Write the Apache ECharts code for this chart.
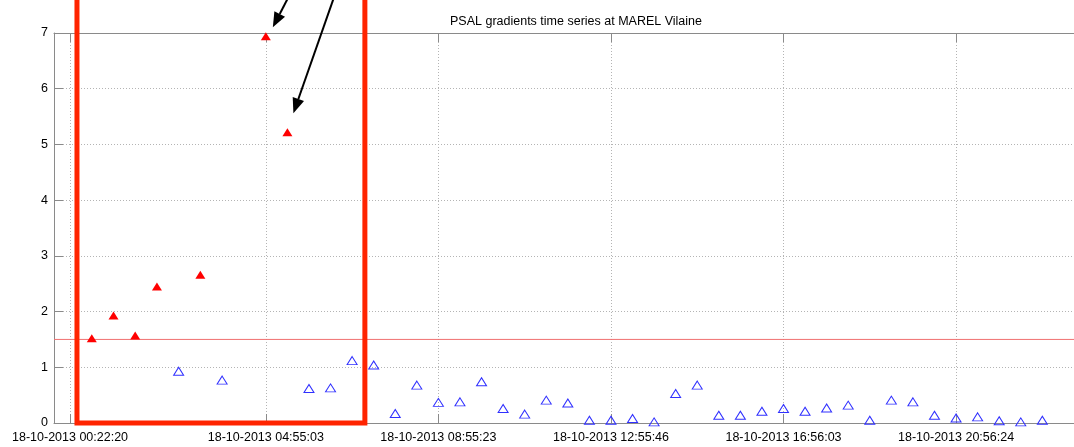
<!DOCTYPE html>
<html>
<head>
<meta charset="utf-8">
<script src="https://cdn.jsdelivr.net/npm/echarts@6/dist/echarts.min.js"></script>
<style>
  html, body { margin: 0; padding: 0; background: #fff; }
  #chart { width: 1074px; height: 447px; }
</style>
</head>
<body>
<div id="chart"></div>
<script>
// sample times (18-10-2013) and PSAL gradient values
const sampleDay = '18-10-2013'
const sampleTimes = [
  '00:52:35', '01:22:50', '01:53:05', '02:23:20', '02:53:35', '03:23:50', '03:54:10', '04:24:30',
  '04:55:03', '05:25:05', '05:55:08', '06:25:10', '06:55:13', '07:25:15', '07:55:18', '08:25:20',
  '08:55:23', '09:25:26', '09:55:29', '10:25:32', '10:55:34', '11:25:37', '11:55:40', '12:25:43',
  '12:55:46', '13:25:48', '13:55:50', '14:25:52', '14:55:54', '15:25:57', '15:55:59', '16:26:01',
  '16:56:03', '17:26:06', '17:56:08', '18:26:11', '18:56:13', '19:26:16', '19:56:18', '20:26:21',
  '20:56:24', '21:26:26', '21:56:29', '22:26:31', '22:56:34'
]
const gradientValues = [
  1.52, 1.93, 1.57, 2.45, 0.93, 2.66, 0.77, null,
  6.94, 5.22, 0.62, 0.63, 1.12, 1.04, 0.17, 0.68,
  0.37, 0.38, 0.74, 0.26, 0.16, 0.41, 0.36, 0.05,
  0.05, 0.08, 0.02, 0.53, 0.68, 0.14, 0.14, 0.21,
  0.26, 0.21, 0.27, 0.32, 0.05, 0.41, 0.38, 0.14,
  0.09, 0.11, 0.04, 0.02, 0.05
]
const tickLabels = [
  '18-10-2013 00:22:20', '18-10-2013 04:55:03', '18-10-2013 08:55:23',
  '18-10-2013 12:55:46', '18-10-2013 16:56:03', '18-10-2013 20:56:24'
]
// the figure is cropped on the right, so the visible axis stops before midnight
const axisStart = '18-10-2013 00:00:00'
const axisEnd = '18-10-2013 23:40:40'
const threshold = 1.5
// highlighted window (red box) and the two flagged points the arrows point at
const boxStart = '18-10-2013 00:32:00'
const boxEnd = '18-10-2013 07:13:00'
const arrowTargets = [8, 9]

const FONT = 'Liberation Sans'

function toMs(s) {
  const [d, t] = s.split(' ')
  const [dd, mo, yy] = d.split('-').map(Number)
  const [hh, mi, ss] = t.split(':').map(Number)
  return Date.UTC(yy, mo - 1, dd, hh, mi, ss)
}
function pad(n) { return (n < 10 ? '0' : '') + n }
function fmt(ms) {
  const d = new Date(ms)
  return pad(d.getUTCDate()) + '-' + pad(d.getUTCMonth() + 1) + '-' + d.getUTCFullYear() + ' ' +
    pad(d.getUTCHours()) + ':' + pad(d.getUTCMinutes()) + ':' + pad(d.getUTCSeconds())
}

const points = sampleTimes.map((t, i) => [toMs(sampleDay + ' ' + t), gradientValues[i]])
const above = points.filter(p => p[1] != null && p[1] > threshold)
const below = points.filter(p => p[1] != null && p[1] <= threshold)
const tickValues = tickLabels.map(toMs)

const chart = echarts.init(document.getElementById('chart'))

const axisGray = '#8a8a8a'
const gridStyle = { color: '#b4b4b4', type: [1, 2], width: 1 }

chart.setOption({
  animation: false,
  title: {
    text: 'PSAL gradients time series at MAREL Vilaine',
    left: 571,
    textAlign: 'center',
    top: 10,
    textStyle: { fontFamily: FONT, fontSize: 12.5, fontWeight: 'normal', color: '#000' }
  },
  grid: { left: 54, right: 0, top: 33, bottom: 24 },
  xAxis: [{
    type: 'value',
    min: toMs(axisStart),
    max: toMs(axisEnd),
    axisLine: { lineStyle: { color: axisGray } },
    axisTick: { inside: true, length: 9, customValues: tickValues, lineStyle: { color: axisGray } },
    axisLabel: {
      customValues: tickValues,
      formatter: v => fmt(v),
      fontFamily: FONT, fontSize: 12.5, color: '#000', margin: 8
    },
    splitLine: { show: true, lineStyle: gridStyle }
  }, {
    type: 'value',
    position: 'top',
    min: toMs(axisStart),
    max: toMs(axisEnd),
    axisLine: { show: true, lineStyle: { color: axisGray } },
    axisTick: { inside: true, length: 9, customValues: tickValues, lineStyle: { color: axisGray } },
    axisLabel: { show: false },
    splitLine: { show: false }
  }],
  yAxis: {
    type: 'value',
    min: 0,
    max: 7,
    interval: 1,
    axisLine: { show: true, lineStyle: { color: axisGray } },
    axisTick: { show: true, inside: true, length: 9, lineStyle: { color: axisGray } },
    axisLabel: { fontFamily: FONT, fontSize: 12.5, color: '#000', margin: 6 },
    splitLine: { show: true, lineStyle: gridStyle }
  },
  series: [{
    name: 'threshold',
    type: 'line',
    data: [[toMs(axisStart), threshold], [toMs(axisEnd), threshold]],
    showSymbol: false,
    silent: true,
    lineStyle: { color: '#f07070', width: 1 },
    z: 2
  }, {
    name: 'below',
    type: 'scatter',
    data: below,
    symbol: 'triangle',
    symbolSize: [10, 8],
    itemStyle: { color: 'rgba(255,255,255,0)', borderColor: '#3030ff', borderWidth: 1, opacity: 1 },
    z: 3
  }, {
    name: 'above',
    type: 'scatter',
    data: above,
    symbol: 'triangle',
    symbolSize: [10, 8],
    itemStyle: { color: '#ff0000', opacity: 1 },
    z: 3
  }]
})

// annotations: red box around the flagged window, arrows onto the two spikes
function px(x, y) { return chart.convertToPixel({ xAxisIndex: 0, yAxisIndex: 0 }, [x, y]) }

function arrow(tail, tip) {
  const dx = tip[0] - tail[0], dy = tip[1] - tail[1]
  const len = Math.sqrt(dx * dx + dy * dy)
  const ux = dx / len, uy = dy / len
  const headLen = 15, headW = 12
  const base = [tip[0] - ux * headLen, tip[1] - uy * headLen]
  return [{
    type: 'line',
    shape: { x1: tail[0], y1: tail[1], x2: base[0], y2: base[1] },
    style: { stroke: '#000', lineWidth: 2 },
    z: 20
  }, {
    type: 'polygon',
    shape: { points: [tip, [base[0] - uy * headW / 2, base[1] + ux * headW / 2], [base[0] + uy * headW / 2, base[1] - ux * headW / 2]] },
    style: { fill: '#000' },
    z: 20
  }]
}

const b0 = px(toMs(boxStart), 0)
const b1 = px(toMs(boxEnd), 0)
const t1 = px(points[arrowTargets[0]][0], points[arrowTargets[0]][1])
const t2 = px(points[arrowTargets[1]][0], points[arrowTargets[1]][1])

const graphics = [{
  type: 'rect',
  shape: { x: b0[0], y: -20, width: b1[0] - b0[0], height: b0[1] + 20 },
  style: { fill: 'none', stroke: '#ff2400', lineWidth: 5 },
  z: 15
}]
  .concat(arrow([t1[0] + 23, t1[1] - 40], [t1[0] + 7, t1[1] - 9]))
  .concat(arrow([t2[0] + 47, t2[1] - 136], [t2[0] + 6, t2[1] - 19]))

chart.setOption({ graphic: graphics })
</script>
</body>
</html>
